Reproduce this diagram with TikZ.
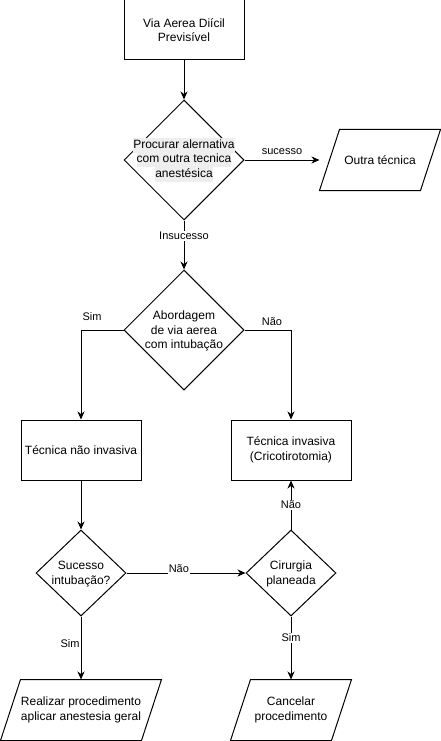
\documentclass[tikz,border=0pt]{standalone}
\usepackage{fontspec}
\setmainfont{Liberation Sans}
\usetikzlibrary{shapes.geometric,arrows.meta}
\definecolor{hl}{RGB}{238,238,238}
\newcommand\hlline[1]{{\setlength\fboxsep{0pt}\colorbox{hl}{\strut #1}}}
\begin{document}
\begin{tikzpicture}[x=1pt,y=-1pt,
  base/.style={line width=1pt,font=\fontsize{12}{14.5}\selectfont,align=center,inner sep=0pt},
  procbox/.style={base,draw=black,rectangle,minimum width=120pt,minimum height=60pt},
  decision/.style={base,draw=black,diamond,minimum width=#1,minimum height=#1},
  dsmall/.style={base,draw=black,diamond,minimum width=90pt,minimum height=86pt},
  dtext/.style={base},
  para/.style={base,rectangle,minimum width=#1,minimum height=60pt,
    append after command={\pgfextra{\draw[line width=1pt,line join=miter]
      ([xshift=20pt]\tikzlastnode.north west) -- (\tikzlastnode.north east) --
      ([xshift=-20pt]\tikzlastnode.south east) -- (\tikzlastnode.south west) -- cycle;}}},
  arr/.style={draw=black,line width=1pt,-{Stealth[length=8pt,width=7pt,inset=2.5pt]}},
  lbl/.style={font=\fontsize{11}{13}\selectfont,inner sep=1pt},
  lblw/.style={lbl,fill=white}]
\useasboundingbox (0,0) rectangle (441,741);

% nodes
\node[procbox] (start) at (184,30) {Via Aerea Diícil\\Previsível};
\node[decision=120pt] (d1) at (184,160) {};
\node[dtext] (t1) at (d1) {\hlline{Procurar alernativa}\\\hlline{com outra tecnica}\\\hlline{anestésica}};
\node[para=120pt] (out) at (380,160) {Outra técnica};
\node[decision=120pt] (d2) at (184,330) {};
\node[dtext] (t2) at (184,331) {Abordagem\\de via aerea\\com intubação};
\node[procbox] (b1) at (81,450) {Técnica não invasiva};
\node[procbox] (b2) at (291,450) {Técnica invasiva\\(Cricotirotomia)};
\node[dsmall] (d3) at (81,573) {};
\node[dtext] (t3) at (81,574) {Sucesso\\intubação?};
\node[dsmall] (d4) at (291,573) {};
\node[dtext] (t4) at (291,574) {Cirurgia\\planeada};
\node[para=160pt] (p1) at (81,710) {Realizar procedimento\\aplicar anestesia geral};
\node[para=120pt] (p2) at (291,710) {Cancelar\\procedimento};

% connectors
\draw[arr] (start.south) -- (d1.north);
\draw[arr] (d1.east) -- node[lbl,pos=0.5,yshift=8pt] {sucesso} (out.west);
\draw[arr] (d1.south) -- node[lblw,pos=0.32] {Insucesso} (d2.north);
\draw[arr] (d2.west) -| node[lbl,pos=0.5,xshift=11pt,yshift=13pt] {Sim} (b1.north);
\draw[arr] (d2.east) -| node[lbl,pos=0.5,xshift=-19pt,yshift=8pt] {Não} (b2.north);
\draw[arr] (b1.south) -- (d3.north);
\draw[arr] (d3.east) -- node[lblw,pos=0.44,yshift=4pt] {Não} (d4.west);
\draw[arr] (d4.north) -- node[lblw,pos=0.5] {Não} (b2.south);
\draw[arr] (d3.south) -- node[lbl,pos=0.43,xshift=-11pt] {Sim} (p1.north);
\draw[arr] (d4.south) -- node[lblw,pos=0.34] {Sim} (p2.north);
\end{tikzpicture}
\end{document}
